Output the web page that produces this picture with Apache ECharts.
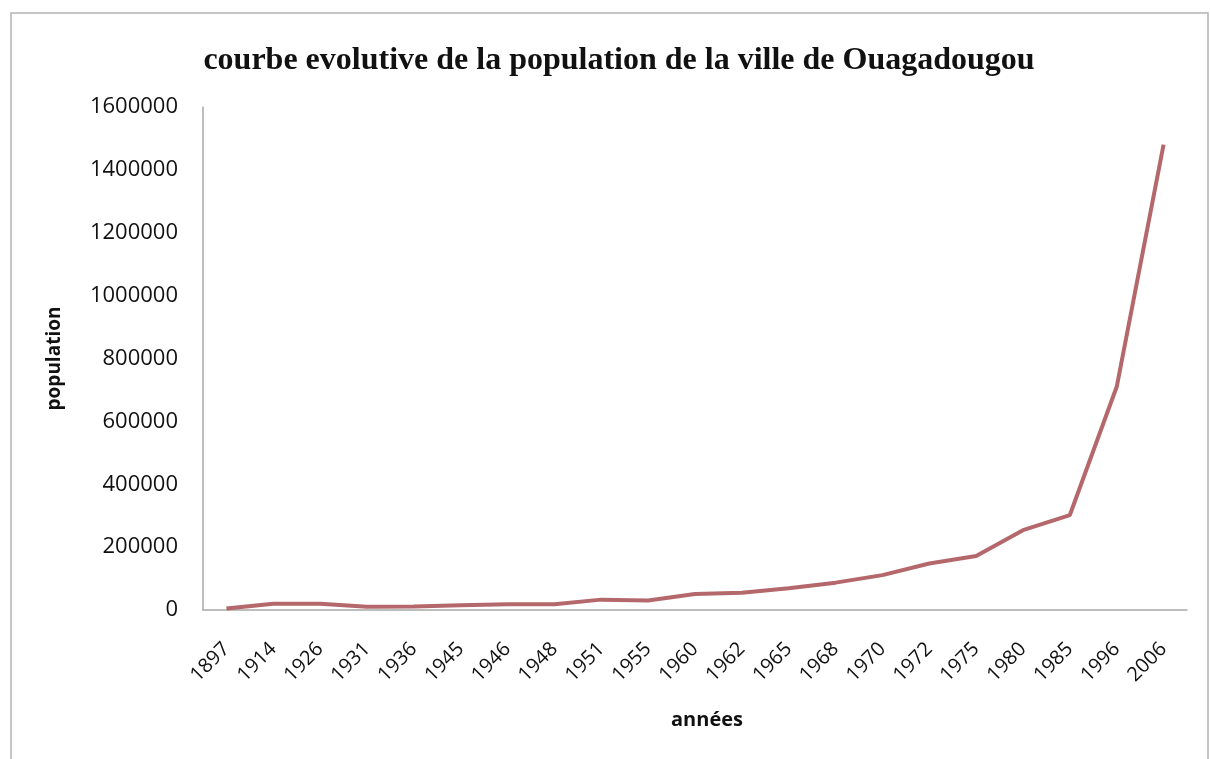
<!DOCTYPE html>
<html>
<head>
<meta charset="utf-8">
<script src="https://cdn.jsdelivr.net/npm/echarts@6/dist/echarts.min.js"></script>
<style>
	html, body { margin: 0; padding: 0; background: #fff; }
	#main { width: 1210px; height: 759px; }
</style>
</head>
<body>
<div id="main"></div>
<script>
// données
var annees = ['1897', '1914', '1926', '1931', '1936', '1945', '1946', '1948', '1951', '1955', '1960',
	'1962', '1965', '1968', '1970', '1972', '1975', '1980', '1985', '1996', '2006'];
var population = [5000, 20000, 20000, 10500, 11000, 15000, 18000, 18000, 33000, 30000, 51000,
	55000, 69000, 87000, 111000, 148000, 172000, 254000, 302000, 710000, 1480000];
var yMin = 0;
var yMax = 1600000;
var yStep = 200000;

var myChart = echarts.init(document.getElementById('main'));

var option = {
	backgroundColor: '#fff',
	animation: false,
	title: {
		text: 'courbe evolutive de la population de la ville de Ouagadougou',
		left: 614,
		top: 40,
		textAlign: 'center',
		textStyle: {
			fontFamily: 'Liberation Serif',
			fontWeight: 'bold',
			fontSize: 32,
			color: '#111'
		}
	},
	graphic: [{
		type: 'rect',
		shape: { x: 11, y: 13, width: 1197, height: 760 },
		style: { fill: 'none', stroke: '#b4b4b4', lineWidth: 1.5 },
		silent: true
	}],
	grid: {
		left: 203,
		right: 23,
		top: 107,
		bottom: 149
	},
	xAxis: {
		type: 'category',
		data: annees,
		boundaryGap: true,
		name: 'années',
		nameLocation: 'middle',
		nameGap: 100,
		nameTextStyle: {
			fontFamily: 'Open Sans',
			fontWeight: 'bold',
			fontSize: 20,
			color: '#111',
			padding: [0, 0, 0, 24]
		},
		axisLine: { lineStyle: { color: '#a8a8a8', width: 1.5 } },
		axisTick: { show: false },
		axisLabel: {
			rotate: 45,
			margin: 36,
			interval: 0,
			fontFamily: 'Open Sans',
			fontSize: 20,
			color: '#111'
		},
		splitLine: { show: false }
	},
	yAxis: {
		type: 'value',
		min: yMin,
		max: yMax,
		interval: yStep,
		name: 'population',
		nameLocation: 'middle',
		nameGap: 139,
		nameRotate: 90,
		nameTextStyle: {
			fontFamily: 'Open Sans',
			fontWeight: 'bold',
			fontSize: 19,
			color: '#111'
		},
		axisLine: { show: true, lineStyle: { color: '#a8a8a8', width: 1.5 } },
		axisTick: { show: false },
		axisLabel: {
			margin: 25,
			fontFamily: 'Open Sans',
			fontSize: 22,
			color: '#111',
			formatter: function (v) { return String(v); }
		},
		splitLine: { show: false }
	},
	series: [{
		type: 'line',
		data: population,
		showSymbol: false,
		symbol: 'none',
		lineStyle: { color: '#b4686b', width: 4 },
		itemStyle: { color: '#b4686b' }
	}]
};

myChart.setOption(option);
</script>
</body>
</html>
